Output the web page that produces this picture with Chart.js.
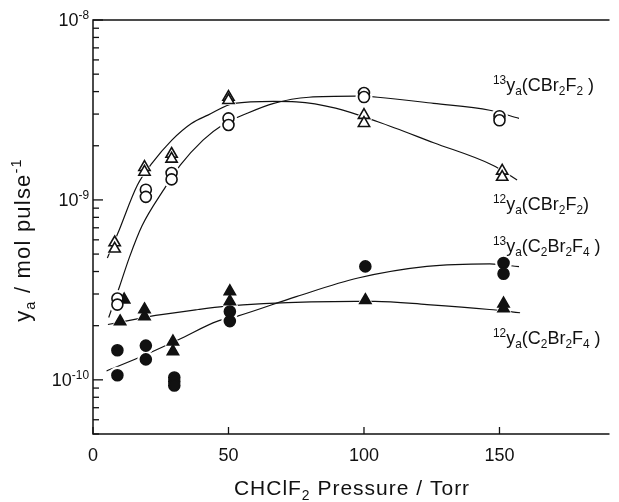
<!DOCTYPE html>
<html>
<head>
<meta charset="utf-8">
<script src="https://cdn.jsdelivr.net/npm/chart.js@4.4.1/dist/chart.umd.min.js"></script>
<style>
  html, body { margin: 0; padding: 0; background: #fff; }
  canvas { display: block; }
</style>
</head>
<body>
<canvas id="yieldChart" width="619" height="502"></canvas>
<script>
// pressures (Torr) and yields (mol pulse^-1)
var triOpenX = [8, 8, 19, 19, 29, 29, 50, 50, 100, 100, 151, 151];
var triOpenY = [5.8e-10, 5.35e-10, 1.52e-9, 1.43e-9, 1.80e-9, 1.69e-9, 3.73e-9, 3.58e-9, 2.96e-9, 2.67e-9, 1.45e-9, 1.34e-9];

var circOpenX = [9, 9, 19.5, 19.5, 29, 29, 50, 50, 100, 100, 150, 150];
var circOpenY = [2.83e-10, 2.62e-10, 1.14e-9, 1.04e-9, 1.41e-9, 1.30e-9, 2.84e-9, 2.61e-9, 3.93e-9, 3.73e-9, 2.92e-9, 2.77e-9];

var circFillX = [9, 9, 19.5, 19.5, 30, 30, 30, 50.5, 50.5, 100.5, 151.5, 151.5];
var circFillY = [1.46e-10, 1.06e-10, 1.55e-10, 1.30e-10, 1.03e-10, 0.98e-10, 0.93e-10, 2.40e-10, 2.12e-10, 4.27e-10, 4.46e-10, 3.89e-10];

var triFillX = [10, 11.5, 19, 19, 29.5, 29.5, 50.5, 50.5, 100.5, 151.5, 151.5];
var triFillY = [2.11e-10, 2.79e-10, 2.46e-10, 2.25e-10, 1.63e-10, 1.44e-10, 3.10e-10, 2.73e-10, 2.77e-10, 2.65e-10, 2.49e-10];

// hand drawn smooth curves
var curveTriOpenX = [5.3, 9.2, 16.4, 21.8, 29.1, 36.3, 42.4, 52.1, 66.6, 75, 89.5, 105.1, 125.7, 147.5, 156.5];
var curveTriOpenY = [4.75e-10, 6.54e-10, 1.21e-9, 1.60e-9, 2.15e-9, 2.66e-9, 2.96e-9, 3.44e-9, 3.53e-9, 3.51e-9, 3.24e-9, 2.72e-9, 2.08e-9, 1.56e-9, 1.29e-9];

var curveCircOpenX = [5.8, 9.8, 13.4, 18.1, 26.1, 32.2, 40.6, 47.8, 56.9, 66.7, 79.7, 96.7, 105.1, 125.7, 146.4, 157.2];
var curveCircOpenY = [2.22e-10, 3.30e-10, 4.78e-10, 7.18e-10, 1.14e-9, 1.56e-9, 2.15e-9, 2.61e-9, 3.03e-9, 3.44e-9, 3.72e-9, 3.77e-9, 3.72e-9, 3.44e-9, 3.15e-9, 2.84e-9];

var curveCircFillX = [5, 17, 31.5, 46, 53.3, 75, 97.8, 123.2, 146.4, 157.2];
var curveCircFillY = [1.12e-10, 1.33e-10, 1.67e-10, 2.12e-10, 2.26e-10, 2.90e-10, 3.68e-10, 4.27e-10, 4.41e-10, 4.26e-10];

var curveTriFillX = [5.5, 18.2, 23.1, 38.8, 48.4, 62.9, 96.7, 104, 123.3, 146.3, 157.6];
var curveTriFillY = [2.03e-10, 2.21e-10, 2.28e-10, 2.46e-10, 2.56e-10, 2.65e-10, 2.73e-10, 2.73e-10, 2.62e-10, 2.46e-10, 2.36e-10];

var xTicks = [0, 50, 100, 150];
var yLabelExps = [-8, -9, -10];

var FONT = '"Liberation Sans", Arial, sans-serif';
var INK = '#111';

function pts(xs, ys) {
  return xs.map(function (x, i) { return { x: x, y: ys[i] }; });
}

function curve(xs, ys) {
  return {
    data: pts(xs, ys), showLine: true, pointRadius: 0, borderColor: INK,
    borderWidth: 1.2, tension: 0.4, cubicInterpolationMode: 'monotone', order: 3
  };
}

function marks(xs, ys, style, r, filled) {
  return {
    data: pts(xs, ys), showLine: false, pointStyle: style, pointRadius: r,
    pointBorderWidth: 1.6, pointBorderColor: INK,
    pointBackgroundColor: filled ? INK : '#fff', order: 1
  };
}

// white halo behind each marker so the curves break around the symbols
function halo(xs, ys, style, r) {
  return {
    data: pts(xs, ys), showLine: false, pointStyle: style, pointRadius: r + 3,
    pointBorderWidth: 0, pointBorderColor: '#fff', pointBackgroundColor: '#fff', order: 2
  };
}

function richText(ctx, parts, x, y, size, align, spacing) {
  ctx.letterSpacing = (spacing || 0) + 'px';
  var w = 0;
  parts.forEach(function (p) {
    ctx.font = (p[1] ? size * 0.66 : size) + 'px ' + FONT;
    w += ctx.measureText(p[0]).width;
  });
  var cx = align === 'right' ? x - w : (align === 'center' ? x - w / 2 : x);
  ctx.textAlign = 'left';
  ctx.textBaseline = 'alphabetic';
  parts.forEach(function (p) {
    var s = p[1] ? size * 0.66 : size;
    ctx.font = s + 'px ' + FONT;
    var dy = p[1] === 'sup' ? -size * 0.4 : (p[1] === 'sub' ? size * 0.22 : 0);
    ctx.fillText(p[0], cx, y + dy);
    cx += ctx.measureText(p[0]).width;
  });
  ctx.letterSpacing = '0px';
}

var decor = {
  id: 'decor',
  afterDraw: function (chart) {
    var ctx = chart.ctx, a = chart.chartArea;
    var xs = chart.scales.x, ys = chart.scales.y;
    ctx.save();
    ctx.strokeStyle = INK;
    ctx.fillStyle = INK;
    ctx.lineWidth = 1.5;
    // frame: top, left, bottom (no right side)
    ctx.beginPath();
    ctx.moveTo(a.right, a.top); ctx.lineTo(a.left, a.top);
    ctx.lineTo(a.left, a.bottom); ctx.lineTo(a.right, a.bottom);
    ctx.stroke();

    // log ticks on y, inward
    ctx.lineWidth = 1.3;
    for (var d = -11; d <= -8; d++) {
      for (var m = 1; m <= 9; m++) {
        var v = m * Math.pow(10, d);
        if (v < ys.min * 0.999 || v > ys.max * 1.001) continue;
        var py = ys.getPixelForValue(v);
        var len = m === 1 ? 10 : 6;
        ctx.beginPath(); ctx.moveTo(a.left, py); ctx.lineTo(a.left + len, py); ctx.stroke();
      }
    }
    // x ticks, inward
    xTicks.forEach(function (t) {
      var px = xs.getPixelForValue(t);
      ctx.beginPath(); ctx.moveTo(px, a.bottom); ctx.lineTo(px, a.bottom - 7); ctx.stroke();
      ctx.font = '18px ' + FONT;
      ctx.textAlign = 'center';
      ctx.textBaseline = 'middle';
      ctx.fillText(String(t), px, a.bottom + 22);
    });

    // y tick labels with superscript exponent
    yLabelExps.forEach(function (e) {
      var py = ys.getPixelForValue(Math.pow(10, e));
      richText(ctx, [['10', ''], ['-' + (-e), 'sup']], a.left - 4, py + 6, 18, 'right');
    });

    // axis titles
    richText(ctx, [['CHClF', ''], ['2', 'sub'], [' Pressure / Torr', '']], 352, 495, 21, 'center', 1);
    ctx.save();
    ctx.translate(30, 240);
    ctx.rotate(-Math.PI / 2);
    richText(ctx, [['y', ''], ['a', 'sub'], [' / mol pulse', ''], ['-1', 'sup']], 0, 0, 22, 'center', 1.2);
    ctx.restore();

    // curve labels
    richText(ctx, [['13', 'sup'], ['y', ''], ['a', 'sub'], ['(CBr', ''], ['2', 'sub'], ['F', ''], ['2', 'sub'], [' )', '']], 493, 91, 18, 'left');
    richText(ctx, [['12', 'sup'], ['y', ''], ['a', 'sub'], ['(CBr', ''], ['2', 'sub'], ['F', ''], ['2', 'sub'], [')', '']], 493, 210, 18, 'left');
    richText(ctx, [['13', 'sup'], ['y', ''], ['a', 'sub'], ['(C', ''], ['2', 'sub'], ['Br', ''], ['2', 'sub'], ['F', ''], ['4', 'sub'], [' )', '']], 493, 252, 18, 'left');
    richText(ctx, [['12', 'sup'], ['y', ''], ['a', 'sub'], ['(C', ''], ['2', 'sub'], ['Br', ''], ['2', 'sub'], ['F', ''], ['4', 'sub'], [' )', '']], 493, 344, 18, 'left');
    ctx.restore();
  }
};

var ctx = document.getElementById('yieldChart').getContext('2d');
var yieldChart = new Chart(ctx, {
  type: 'scatter',
  data: {
    datasets: [
      curve(curveTriOpenX, curveTriOpenY),
      curve(curveCircOpenX, curveCircOpenY),
      curve(curveCircFillX, curveCircFillY),
      curve(curveTriFillX, curveTriFillY),
      halo(triOpenX, triOpenY, 'triangle', 6.5),
      halo(circOpenX, circOpenY, 'circle', 5.5),
      halo(circFillX, circFillY, 'circle', 5.5),
      halo(triFillX, triFillY, 'triangle', 6.5),
      marks(triOpenX, triOpenY, 'triangle', 6.5, false),
      marks(circOpenX, circOpenY, 'circle', 5.5, false),
      marks(circFillX, circFillY, 'circle', 5.5, true),
      marks(triFillX, triFillY, 'triangle', 6.5, true)
    ]
  },
  options: {
    responsive: false,
    animation: false,
    layout: { padding: { left: 93, top: 20, right: 0, bottom: 68 } },
    plugins: { legend: { display: false }, tooltip: { enabled: false } },
    scales: {
      x: {
        type: 'linear', min: 0, max: 190.6,
        grid: { display: false, drawTicks: false }, border: { display: false },
        ticks: { display: false }
      },
      y: {
        type: 'logarithmic', min: 5e-11, max: 1e-8,
        grid: { display: false, drawTicks: false }, border: { display: false },
        ticks: { display: false }
      }
    }
  },
  plugins: [decor]
});
</script>
</body>
</html>
